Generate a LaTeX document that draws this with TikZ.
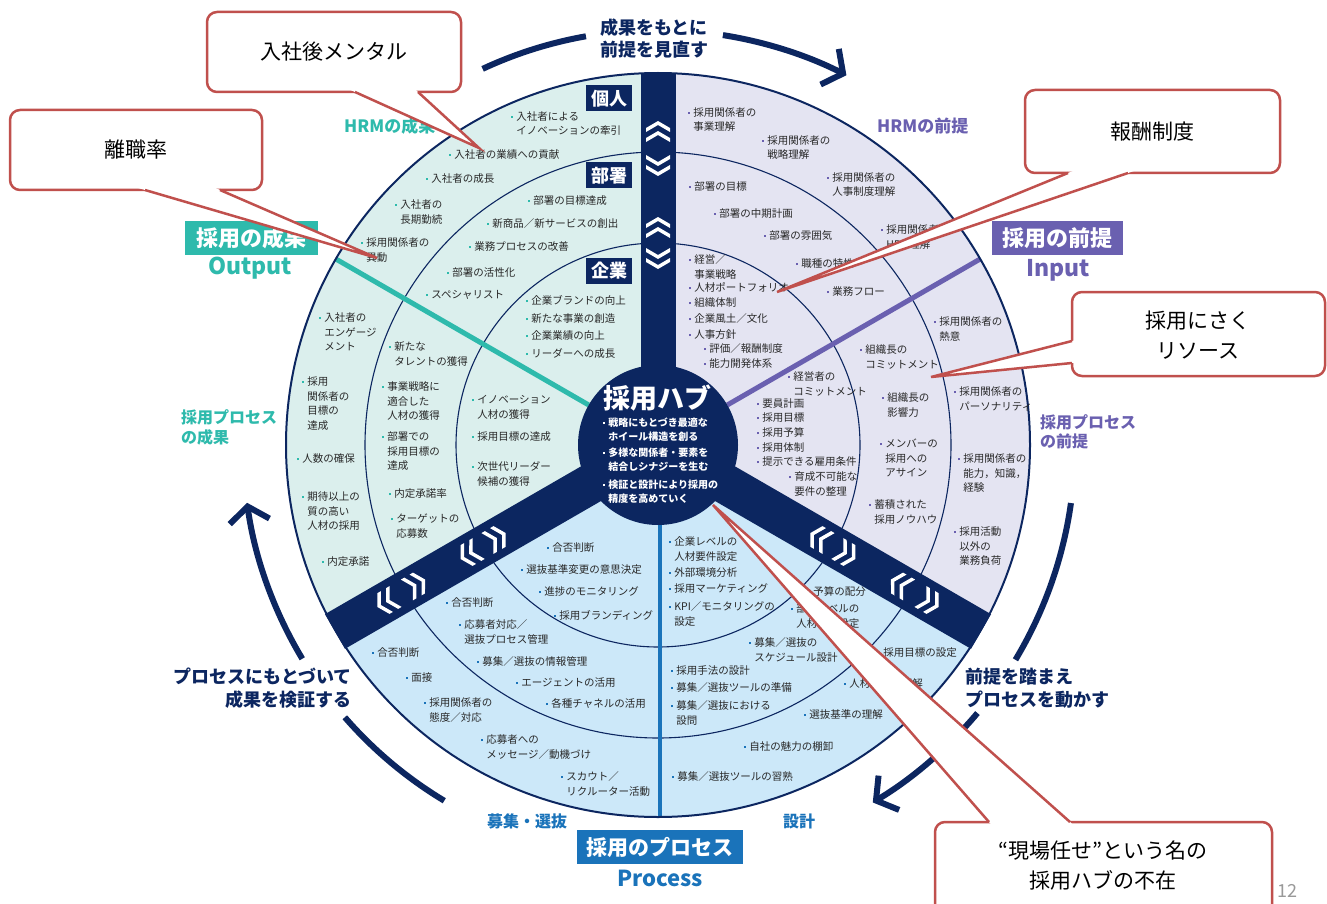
\documentclass[tikz,border=0pt]{standalone}
\usepackage{fontspec}
\setmainfont{Noto Sans CJK JP}
\usetikzlibrary{calc,arrows.meta}
\definecolor{navy}{RGB}{12,38,96}
\definecolor{tealc}{RGB}{46,186,172}
\definecolor{purp}{RGB}{106,96,176}
\definecolor{bluec}{RGB}{26,115,186}
\definecolor{secA}{RGB}{219,239,237}
\definecolor{secB}{RGB}{228,228,242}
\definecolor{secC}{RGB}{204,232,249}
\definecolor{txt}{RGB}{40,40,40}
\definecolor{callred}{RGB}{192,80,77}
\newcommand\bu[1]{\textcolor{#1}{\rule[2.5pt]{2.2pt}{2.2pt}}\hspace{3pt}}
\newcommand\ml[1]{\begin{tabular}[t]{@{}l@{}}#1\end{tabular}}
\tikzset{
  item/.style={font=\fontsize{10.5}{14.5}\selectfont, text=txt, inner sep=0, anchor=base west},
  hubtxt/.style={font=\fontsize{10}{13.5}\selectfont\bfseries, text=white, inner sep=0, anchor=base west},
  lab/.style={fill=navy, text=white, font=\fontsize{18}{18}\selectfont\bfseries, minimum width=46, minimum height=26, inner sep=0},
  bigbox/.style={text=white, font=\fontsize{22}{22}\selectfont\bfseries, minimum height=34, inner sep=0},
  sublab/.style={font=\fontsize{16}{19.5}\selectfont\bfseries, inner sep=0, align=left, anchor=west},
  arclab/.style={font=\fontsize{18}{22.5}\selectfont\bfseries, text=navy, inner sep=0},
  arcline/.style={navy, line width=6},
  callbox/.style={draw=callred, line width=2.5, fill=white, rounded corners=10},
  callwedge/.style={callred, line width=2.5},
  ctext/.style={font=\fontsize{21}{30}\selectfont, text=black, align=center, inner sep=0},
  dchev/.pic={
    \foreach \a in {6,-4} {
      \fill[white] (\a,0) -- (\a-7,12) -- (\a-11,12) -- (\a-4,0) -- (\a-11,-12) -- (\a-7,-12) -- cycle;
    }
  }
}
\begin{document}
\begin{tikzpicture}[x=1pt,y=-1pt]
\useasboundingbox (0,0) rectangle (1327,904);
\fill[white] (0,0) rectangle (1327,904);
\coordinate (C) at (658,445);
% sectors
\fill[secA] (C) -- ($(C)+(150:372)$) arc[start angle=150,end angle=270,radius=372] -- cycle;
\fill[secB] (C) -- ($(C)+(270:372)$) arc[start angle=270,end angle=390,radius=372] -- cycle;
\fill[secC] (C) -- ($(C)+(30:372)$) arc[start angle=30,end angle=150,radius=372] -- cycle;
% rings
\draw[navy, line width=1.1] (C) circle[radius=293];
\draw[navy, line width=1.1] (C) circle[radius=202];
% coloured dividers
\draw[tealc, line width=5] ($(C)+(210:80)$) -- ($(C)+(210:372)$);
\draw[purp, line width=5] ($(C)+(330:80)$) -- ($(C)+(330:372)$);
\draw[bluec, line width=4] ($(C)+(90:80)+(2,0)$) -- ($(C)+(90:372)+(2,0)$);
\draw[navy, line width=2] (C) circle[radius=372];
% bands
\fill[navy] (640.5,445) rectangle (675.5,73);
\foreach \p in {150,30}
  \fill[navy] ($(C)+(\p+90:20)$) -- ($(C)+(\p:373)+(\p+90:20)$) -- ($(C)+(\p:373)+(\p-90:20)$) -- ($(C)+(\p-90:20)$) -- cycle;
\fill[navy] (C) circle[radius=80];
% chevrons
\foreach \p in {270,150,30} {
  \foreach \t in {318,222} \pic[rotate=-\p] at ($(C)+(\p:\t)$) {dchev};
  \foreach \t in {275,182} \pic[rotate=180-\p] at ($(C)+(\p:\t)$) {dchev};
}
% level labels
\node[lab] (kojin) at (609,98.5) {個人};
\node[lab] (busho) at (609,175.5) {部署};
\node[lab] (kigyo) at (609,271) {企業};
% hub
\node[font=\fontsize{27}{27}\selectfont\bfseries, text=white, inner sep=0] (hubt) at (657,398) {採用ハブ};
\node[hubtxt] (h1) at (603,426.5) {\bu{white}\ml{戦略にもとづき最適な\\ホイール構造を創る}};
\node[hubtxt] (h2) at (603,456.5) {\bu{white}\ml{多様な関係者・要素を\\結合しシナジーを生む}};
\node[hubtxt] (h3) at (603,488.5) {\bu{white}\ml{検証と設計により採用の\\精度を高めていく}};
% items: upper-left (outcomes)
\foreach \x/\y/\t [count=\i] in {
512/117/入社者による\\イノベーションの牽引,
450/155/入社者の業績への貢献,
427/179/入社者の成長,
396/205/入社者の\\長期勤続,
362/243/採用関係者の\\異動,
320/318/入社者の\\エンゲージ\\メント,
303/382/採用\\関係者の\\目標の\\達成,
298/459/人数の確保,
303/497/期待以上の\\質の高い\\人材の採用,
323/562/内定承諾,
529/201/部署の目標達成,
488/224/新商品／新サービスの創出,
470/247/業務プロセスの改善,
448/273/部署の活性化,
427/295/スペシャリスト,
390/347/新たな\\タレントの獲得,
383/387/事業戦略に\\適合した\\人材の獲得,
383/437/部署での\\採用目標の\\達成,
390/494/内定承諾率,
392/519/ターゲットの\\応募数,
527/301/企業ブランドの向上,
527/319/新たな事業の創造,
527/336/企業業績の向上,
527/354/リーダーへの成長,
473/400/イノベーション\\人材の獲得,
473/437/採用目標の達成,
473/467/次世代リーダー\\候補の獲得
}{\node[item] (a\i) at (\x-1,\y+3.5) {\bu{tealc}\ml{\t}};}
% items: upper-right (premises)
\foreach \x/\y/\t [count=\i] in {
689/113/採用関係者の\\事業理解,
763/141/採用関係者の\\戦略理解,
828/178/採用関係者の\\人事制度理解,
882/230/採用関係者の\\HRM理解,
935/322/採用関係者の\\熱意,
955/392/採用関係者の\\パーソナリティ,
959/459/採用関係者の\\能力，知識，\\経験,
955/532/採用活動\\以外の\\業務負荷,
690/187/部署の目標,
715/214/部署の中期計画,
765/236/部署の雰囲気,
797/264/職種の特性,
828/292/業務フロー,
861/350/組織長の\\コミットメント,
883/398/組織長の\\影響力,
881/444/メンバーの\\採用への\\アサイン,
870/505/蓄積された\\採用ノウハウ,
690/260/経営／\\事業戦略,
690/288/人材ポートフォリオ,
690/303/組織体制,
690/319/企業風土／文化,
690/335/人事方針,
705/349/評価／報酬制度,
705/364/能力開発体系,
789/377/経営者の\\コミットメント,
758/404/要員計画,
758/418/採用目標,
758/433/採用予算,
758/448/採用体制,
758/462/提示できる雇用条件,
790/477/育成不可能な\\要件の整理
}{\node[item] (b\i) at (\x-1,\y+3.5) {\bu{purp}\ml{\t}};}
% items: bottom (process)
\foreach \x/\y/\t [count=\i] in {
670/542/企業レベルの\\人材要件設定,
670/573/外部環境分析,
670/589/採用マーケティング,
670/607/KPI／モニタリングの\\設定,
809/592/予算の配分,
792/609/部署レベルの\\人材要件設定,
750/643/募集／選抜の\\スケジュール設計,
672/671/採用手法の設計,
672/688/募集／選抜ツールの準備,
672/706/募集／選抜における\\設問,
879/653/採用目標の設定,
845/684/人材要件の理解,
805/715/選抜基準の理解,
745/747/自社の魅力の棚卸,
673/777/募集／選抜ツールの習熟,
548/548/合否判断,
522/570/選抜基準変更の意思決定,
540/592/進捗のモニタリング,
555/616/採用ブランディング,
447/603/合否判断,
460/625/応募者対応／\\選抜プロセス管理,
478/662/募集／選抜の情報管理,
517/683/エージェントの活用,
547/704/各種チャネルの活用,
373/653/合否判断,
407/678/面接,
425/703/採用関係者の\\態度／対応,
482/740/応募者への\\メッセージ／動機づけ,
562/777/スカウト／\\リクルーター活動
}{\node[item] (c\i) at (\x-1,\y+3.5) {\bu{bluec}\ml{\t}};}
% outer labels
\node[font=\fontsize{17}{17}\selectfont\bfseries, text=tealc, anchor=west, inner sep=0] (hrmo) at (344,126) {HRMの成果};
\node[font=\fontsize{17}{17}\selectfont\bfseries, text=purp, anchor=west, inner sep=0] (hrmp) at (877,126) {HRMの前提};
\node[bigbox, fill=tealc, minimum width=133] (out1) at (251.5,238) {採用の成果};
\node[text=tealc, font=\fontsize{23}{23}\selectfont\bfseries, inner sep=0] (out2) at (250,268) {Output};
\node[bigbox, fill=purp, minimum width=131] (in1) at (1057.5,238) {採用の前提};
\node[text=purp, font=\fontsize{23}{23}\selectfont\bfseries, inner sep=0] (in2) at (1058,270) {Input};
\node[sublab, text=tealc] (pro) at (181,427.5) {採用プロセス\\の成果};
\node[sublab, text=purp] (prp) at (1040,432) {採用プロセス\\の前提};
\node[arclab, align=right, anchor=east] (vl) at (352,688) {プロセスにもとづいて\\成果を検証する};
\node[arclab, align=left, anchor=west] (vr) at (965,688) {前提を踏まえ\\プロセスを動かす};
\node[arclab, align=center] (vt) at (654,38.5) {成果をもとに\\前提を見直す};
\node[text=bluec, font=\fontsize{16}{16}\selectfont\bfseries, inner sep=0] (bs) at (527,821) {募集・選抜};
\node[text=bluec, font=\fontsize{16}{16}\selectfont\bfseries, inner sep=0] (sk) at (799,821) {設計};
\node[bigbox, fill=bluec, minimum width=166, font=\fontsize{21}{21}\selectfont\bfseries] (pr1) at (660,847) {採用のプロセス};
\node[text=bluec, font=\fontsize{22}{22}\selectfont\bfseries, inner sep=0] (pr2) at (660,878) {Process};
\node[text=gray!80, font=\fontsize{18}{18}\selectfont, inner sep=0] (pg) at (1287,891) {12};
% cycle arcs
\draw[arcline] ($(C)+(245:415)$) arc[start angle=245, end angle=260, radius=415];
\draw[arcline, -{Straight Barb[length=15pt,width=40pt]}] ($(C)+(279:415)$) arc[start angle=279, end angle=297, radius=415];
\draw[arcline] ($(C)+(8:417)$) arc[start angle=8, end angle=31, radius=417];
\draw[arcline, -{Straight Barb[length=15pt,width=40pt]}] ($(C)+(40:417)$) arc[start angle=40, end angle=59, radius=417];
\draw[arcline] ($(C)+(121:415)$) arc[start angle=121, end angle=139, radius=415];
\draw[arcline, -{Straight Barb[length=15pt,width=40pt]}] ($(C)+(149:415)$) arc[start angle=149, end angle=172, radius=415];
% callouts
\coordinate (k1t) at (479,148); \coordinate (k1a) at (355,92); \coordinate (k1b) at (418,92);
\coordinate (k2t) at (377,258); \coordinate (k2a) at (145,190); \coordinate (k2b) at (220,190);
\coordinate (k3t) at (777,292); \coordinate (k3a) at (1068,173); \coordinate (k3b) at (1128,173);
\coordinate (k4t) at (931,377); \coordinate (k4a) at (1072,341); \coordinate (k4b) at (1072,363);
\coordinate (k5t) at (713,505); \coordinate (k5a) at (989,822); \coordinate (k5b) at (1070,822);
\draw[callbox] (207,12) rectangle (461,92);
\draw[callbox] (10,110) rectangle (262,190);
\draw[callbox] (1025,90) rectangle (1280,173);
\draw[callbox] (1072,292) rectangle (1325,376);
\draw[callbox] (935,822) rectangle (1272,918);
\foreach \k in {1,...,5} {
  \fill[white] (k\k t) -- ($(k\k a)!-8pt!(k\k t)$) -- ($(k\k b)!-8pt!(k\k t)$) -- cycle;
  \draw[callwedge] (k\k a) -- (k\k t) -- (k\k b);
}
\node[ctext] (m1) at (334,52) {入社後メンタル};
\node[ctext] (m2) at (136,150) {離職率};
\node[ctext] (m3) at (1152,132) {報酬制度};
\node[ctext] (m4) at (1198,335) {採用にさく\\リソース};
\node[ctext] (m5) at (1103,866) {“現場任せ”という名の\\採用ハブの不在};
\end{tikzpicture}
\end{document}
